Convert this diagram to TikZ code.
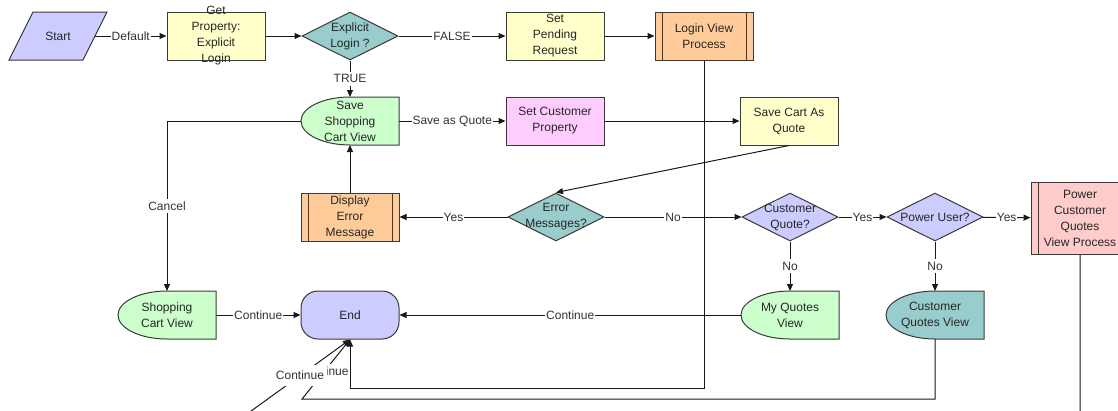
\documentclass[tikz,border=0pt]{standalone}
\usepackage{fontspec}
\setmainfont{Liberation Sans}
\usetikzlibrary{shapes.geometric,arrows.meta}
\definecolor{cLavender}{HTML}{CCCCFF}
\definecolor{cYellow}{HTML}{FFFFCC}
\definecolor{cTeal}{HTML}{99CCCC}
\definecolor{cOrange}{HTML}{FFCC99}
\definecolor{cGreen}{HTML}{CCFFCC}
\definecolor{cPink}{HTML}{FFCCFF}
\definecolor{cRose}{HTML}{FFCCCC}
\definecolor{cLine}{HTML}{3A3A3A}
\tikzset{
	txt/.style={font=\fontsize{12}{16}\selectfont, align=center, text=black!85, inner sep=0pt},
	shp/.style={draw=cLine, line width=1pt, inner sep=0pt, minimum width=98pt, minimum height=48pt, label={[txt]center:{#1}}},
	task/.style={shp=#1, rectangle},
	proc/.style={task=#1, path picture={\draw[cLine, line width=1pt] ([xshift=7pt]path picture bounding box.north west) -- ([xshift=7pt]path picture bounding box.south west) ([xshift=-7pt]path picture bounding box.north east) -- ([xshift=-7pt]path picture bounding box.south east);}},
	decision/.style={shp=#1, diamond, minimum width=96pt},
	term/.style={shp=#1, rectangle, rounded corners=17pt},
	base/.style={draw=none, minimum width=98pt, minimum height=48pt, inner sep=0pt, outer sep=0pt},
	outline/.style={draw=cLine, line width=1pt},
	flow/.style={draw=black!90, line width=1pt, -{Triangle[length=7pt,width=6pt]}},
	lab/.style={txt, fill=white, inner xsep=1pt, inner ysep=3pt, text=black!80},
}
\newcommand{\IONode}[4]{%
	\node[base, minimum width=74pt] (#1) at (#2) {};
	\draw[outline, fill=#3] ([xshift=12pt]#1.north west) -- ([xshift=12pt]#1.north east) -- ([xshift=-12pt]#1.south east) -- ([xshift=-12pt]#1.south west) -- cycle;
	\node[txt] at (#1) {#4};
}
\newcommand{\ViewNode}[4]{%
	\node[base] (#1) at (#2) {};
	\draw[outline, fill=#3] (#1.north east) -- (#1.north) arc[start angle=90, end angle=270, x radius=49pt, y radius=24pt] -- (#1.south east) -- cycle;
	\node[txt] at (#1) {#4};
}

\begin{document}
\begin{tikzpicture}[x=1pt, y=-1pt]
	\useasboundingbox (0,0) rectangle (1118,410);
	\clip (0,0) rectangle (1118,410);
	\IONode{start}{58,36}{cLavender}{Start}
	\node[task={Get\\Property:\\Explicit\\Login}, fill=cYellow] (getprop) at (216,36) {};
	\node[decision={Explicit\\Login ?}, fill=cTeal] (explicit) at (350,36) {};
	\node[task={Set\\Pending\\Request}, fill=cYellow] (pending) at (555,36) {};
	\node[proc={Login View\\Process}, fill=cOrange] (loginview) at (704,36) {};
	
	\ViewNode{savecart}{350,121}{cGreen}{Save\\Shopping\\Cart View}
	\node[task={Set Customer\\Property}, fill=cPink] (setcust) at (555,121) {};
	\node[task={Save Cart As\\Quote}, fill=cYellow] (savequote) at (789,121) {};
	
	\node[proc={Display\\Error\\Message}, fill=cOrange] (display) at (350,217) {};
	\node[decision={Error\\Messages?}, fill=cTeal] (errmsg) at (556,217) {};
	\node[decision={Customer\\Quote?}, fill=cLavender] (custquote) at (790,217) {};
	\node[decision={Power User?}, fill=cLavender] (poweruser) at (935,217) {};
	\node[proc={Power\\Customer\\Quotes\\View Process}, fill=cRose, minimum height=72pt] (powerproc) at (1080,218) {};
	
	\ViewNode{shopview}{167,315}{cGreen}{Shopping\\Cart View}
	\node[term=End, fill=cLavender] (end) at (350,315) {};
	\ViewNode{myquotes}{790,315}{cGreen}{My Quotes\\View}
	\ViewNode{custview}{935,315}{cTeal}{Customer\\Quotes View}
	
	\coordinate (busA) at (0,388);
	\coordinate (busB) at (0,399);
	\coordinate (busC) at (0,440);
	\coordinate (bendB) at (302,399);
	\coordinate (bendC) at (211,440);
	
	\draw[flow] (start) -- node[lab]{Default} (getprop);
	\draw[flow] (getprop) -- (explicit);
	\draw[flow] (explicit) -- node[lab]{FALSE} (pending);
	\draw[flow] (pending) -- (loginview);
	\draw[flow] (explicit) -- node[lab]{TRUE} (savecart);
	\draw[flow] (savecart) -- node[lab]{Save as Quote} (setcust);
	\draw[flow] (setcust) -- (savequote);
	\draw[flow] (savequote.south) -- (errmsg.north);
	\draw[flow] (errmsg) -- node[lab]{Yes} (display);
	\draw[flow] (display) -- (savecart);
	\draw[flow] (savecart.west) -| node[lab, pos=.75]{Cancel} (shopview);
	\draw[flow] (errmsg) -- node[lab]{No} (custquote);
	\draw[flow] (custquote) -- node[lab]{Yes} (poweruser);
	\draw[flow] (poweruser) -- node[lab]{Yes} (powerproc);
	\draw[flow] (custquote) -- node[lab]{No} (myquotes);
	\draw[flow] (poweruser) -- node[lab]{No} (custview);
	\draw[flow] (shopview) -- node[lab]{Continue} (end);
	\draw[flow] (myquotes) -- node[lab]{Continue} (end);
	\draw[flow] (loginview) -- (loginview |- busA) -| (end);
	\draw[flow] (custview) -- (custview |- busB) -- (bendB) -- node[lab, pos=.47]{Continue} (end.south);
	\draw[flow] (powerproc) -- (powerproc |- busC) -- (bendC) -- node[lab, pos=.64, inner xsep=3pt, inner ysep=6pt]{Continue} (end.south);
\end{tikzpicture}
\end{document}
